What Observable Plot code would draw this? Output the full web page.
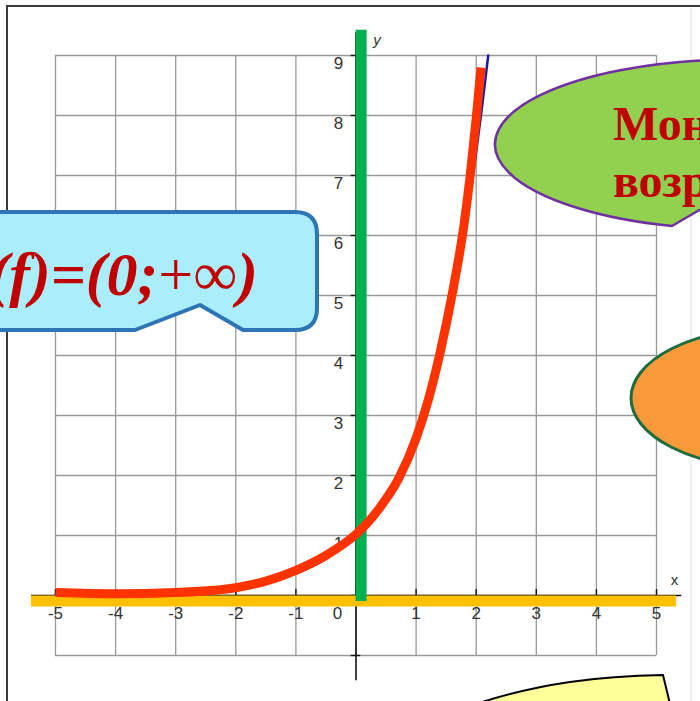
<!DOCTYPE html>
<html>
<head>
<meta charset="utf-8">
<script src="https://cdn.jsdelivr.net/npm/d3@7"></script>
<script src="https://cdn.jsdelivr.net/npm/@observablehq/plot@0.6"></script>
<style>
  html, body { margin: 0; padding: 0; background: #fff; }
  #chart { position: relative; width: 700px; height: 701px; overflow: hidden; }
  #chart svg { display: block; }
</style>
</head>
<body>
<div id="chart"></div>
<script>
// Grid lines (whole units)
const xTicks = [-5, -4, -3, -2, -1, 0, 1, 2, 3, 4, 5];
const yTicks = [-1, 0, 1, 2, 3, 4, 5, 6, 7, 8, 9];

// Tick labels
const xLabelValues = [-5, -4, -3, -2, -1, 1, 2, 3, 4, 5];
const xTickLabels = ["-5", "-4", "-3", "-2", "-1", "1", "2", "3", "4", "5"];
const yLabelValues = [1, 2, 3, 4, 5, 6, 7, 8, 9];
const yTickLabels = ["1", "2", "3", "4", "5", "6", "7", "8", "9"];
const originLabel = ["0"];
const axisNames = ["x", "y"];

// Graph of y = e^x as plotted by the graphing tool
const expX = [-5, -4, -3, -2, -1, -0.5, 0, 0.5, 1, 1.25, 1.5, 1.75, 2, 2.1, 2.2];
const expY = [0.01, 0.02, 0.05, 0.14, 0.37, 0.61, 1, 1.65, 2.72, 3.49, 4.48, 5.75, 7.39, 8.17, 9.0];

// Highlighted trace drawn over the graph
const traceX = [-5, -4, -3, -2, -1.5, -1, -0.5, 0, 0.2, 0.4, 0.7, 1.0, 1.2, 1.4, 1.6, 1.8, 1.9, 2.0, 2.08];
const traceY = [0.05, 0.03, 0.05, 0.13, 0.24, 0.42, 0.67, 1.02, 1.22, 1.47, 1.93, 2.62, 3.25, 4.05, 5.02, 6.2, 7.0, 7.95, 8.8];

// Callout texts
const rangeText = ["E(f)=(0;", "+∞", ")"];
const monotoneText = ["Монотонно", "возрастает"];

const expData = expX.map((x, i) => ({x, y: expY[i]}));
const traceData = traceX.map((x, i) => ({x, y: traceY[i]}));

const labelFont = "Liberation Sans, Arial, sans-serif";

const plot = Plot.plot({
  width: 700,
  height: 701,
  marginLeft: 55,
  marginRight: 44,
  marginTop: 55,
  marginBottom: 46,
  x: {domain: [-5, 5], axis: null},
  y: {domain: [-1, 9], axis: null},
  style: {background: "transparent", overflow: "visible"},
  marks: [
    // grid
    Plot.ruleX(xTicks, {y1: -1, y2: 9, stroke: "#999", strokeWidth: 1.3}),
    Plot.ruleY(yTicks, {x1: -5, x2: 5, stroke: "#999", strokeWidth: 1.3}),
    // coordinate axes
    Plot.ruleX([0], {y1: -1.42, y2: 9.38, stroke: "#111", strokeWidth: 1.6}),
    Plot.ruleY([0], {x1: -5.4, x2: 5.42, stroke: "#111", strokeWidth: 1.6}),
    Plot.ruleY(yTicks, {x1: -0.08, x2: 0.08, stroke: "#111", strokeWidth: 1.4}),
    Plot.ruleX(xTicks, {y1: 0, y2: 0.1, stroke: "#111", strokeWidth: 1.4}),
    // tick labels
    Plot.text(yLabelValues, {
      x: 0, y: d => d, text: (d, i) => yTickLabels[i],
      dx: -17.5, dy: 8, fontSize: 17, fontFamily: labelFont, fill: "#333", textAnchor: "middle"
    }),
    Plot.text(xLabelValues, {
      x: d => d, y: 0, text: (d, i) => xTickLabels[i],
      dy: 18, fontSize: 17, fontFamily: labelFont, fill: "#333", textAnchor: "middle"
    }),
    Plot.text(originLabel, {
      x: 0, y: 0, text: d => d,
      dx: -18.5, dy: 18, fontSize: 17, fontFamily: labelFont, fill: "#333", textAnchor: "middle"
    }),
    Plot.text([axisNames[0]], {
      x: 5, y: 0, text: d => d, dx: 18, dy: -15,
      fontSize: 15, fontFamily: labelFont, fill: "#333", textAnchor: "middle"
    }),
    Plot.text([axisNames[1]], {
      x: 0, y: 9, text: d => d, dx: 21, dy: -15,
      fontSize: 15, fontFamily: labelFont, fontStyle: "italic", fill: "#333", textAnchor: "middle"
    }),
    // y = e^x
    Plot.line(expData, {x: "x", y: "y", stroke: "#1a1aa8", strokeWidth: 2.5, curve: "monotone-x"}),
    // highlighted axes
    Plot.ruleY([-0.092], {x1: -5.4, x2: 5.335, stroke: "#FFC000", strokeWidth: 11}),
    Plot.ruleX([0.085], {y1: -0.1, y2: 9.42, stroke: "#00B050", strokeWidth: 11}),
    // highlighted trace
    Plot.line(traceData, {x: "x", y: "y", stroke: "#FF3300", strokeWidth: 9, curve: "monotone-x", strokeLinecap: "butt"})
  ]
});

document.getElementById("chart").appendChild(plot);

// Slide decorations: frame and callouts
const svg = d3.select(plot);
const deco = svg.append("g").attr("text-anchor", "start");

deco.append("path")
  .attr("d", "M7,701 V6 H700")
  .attr("fill", "none").attr("stroke", "#3a3a3a").attr("stroke-width", 2);
deco.append("line")
  .attr("x1", 691).attr("x2", 691).attr("y1", 8).attr("y2", 701)
  .attr("stroke", "#ececec").attr("stroke-width", 1.5);

// range callout
deco.append("path")
  .attr("d", "M-30,212 H295 Q317,212 317,234 V308 Q317,330 295,330 H243 L200,305 L135,330 H-30 Z")
  .attr("fill", "#AAEEFB").attr("stroke", "#2E75B6").attr("stroke-width", 4).attr("stroke-linejoin", "round");
const rt = deco.append("text")
  .attr("x", 258).attr("y", 295)
  .attr("text-anchor", "end")
  .attr("font-family", "Liberation Serif, Times New Roman, serif")
  .attr("font-size", 62)
  .attr("fill", "#C00000");
rt.append("tspan").attr("font-weight", "bold").attr("font-style", "italic").text(rangeText[0]);
rt.append("tspan").attr("font-weight", "normal").attr("font-style", "normal").text(rangeText[1]);
rt.append("tspan").attr("font-weight", "bold").attr("font-style", "italic").text(rangeText[2]);

// monotonicity callout (ellipse centred near (740,144) with a notch at the bottom)
deco.append("path")
  .attr("d", "M672,226 A245,85 0 1,1 808,226 L720,198 Z")
  .attr("fill", "#92D050").attr("stroke", "#7030A0").attr("stroke-width", 2.5).attr("stroke-linejoin", "round");
monotoneText.forEach((t, i) => {
  deco.append("text")
    .attr("x", 613).attr("y", 140 + i * 57)
    .attr("text-anchor", "start")
    .attr("font-family", "Liberation Serif, Times New Roman, serif")
    .attr("font-weight", "bold")
    .attr("font-size", 48)
    .attr("fill", "#C00000")
    .text(t);
});

// orange callout
deco.append("ellipse")
  .attr("cx", 771).attr("cy", 398).attr("rx", 140).attr("ry", 70)
  .attr("fill", "#F89A3A").attr("stroke", "#1E6B3C").attr("stroke-width", 3);

// yellow callout
deco.append("path")
  .attr("d", "M476,704 C540,683 600,676 663,675 L670,704 Z")
  .attr("fill", "#FFFF99").attr("stroke", "#000").attr("stroke-width", 2);
</script>
</body>
</html>
